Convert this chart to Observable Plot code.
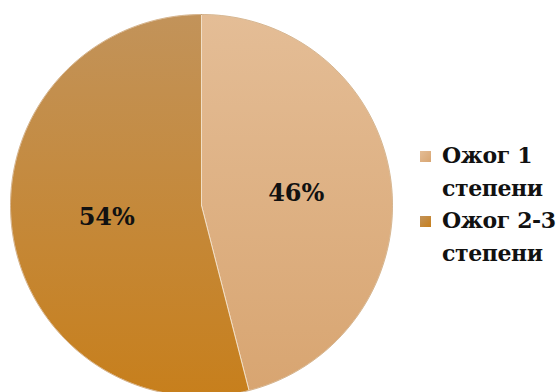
<!DOCTYPE html>
<html>
<head>
<meta charset="utf-8">
<script src="https://cdn.jsdelivr.net/npm/d3@7"></script>
<script src="https://cdn.jsdelivr.net/npm/@observablehq/plot@0.6"></script>
<style>
  html, body { margin: 0; padding: 0; background: #fff; }
  #wrap { position: relative; width: 557px; height: 392px; overflow: hidden; }
  #legend { position: absolute; left: 0; top: 0; }
  .item { position: absolute; left: 420px; }
  .sw { position: absolute; left: 0; width: 11px; height: 11px; }
  .lbl { position: absolute; left: 22px; white-space: pre; font-family: "DejaVu Serif", serif; font-weight: bold; font-size: 22px; letter-spacing: -0.4px; line-height: 32.5px; color: #111; }
</style>
</head>
<body>
<div id="wrap"></div>
<script>
const categories = ["Ожог 1 степени", "Ожог 2-3 степени"];
const values = [46, 54];
const labels = ["46%", "54%"];
const colorsTop = ["#e4bd96", "#c2935a"];
const colorsBottom = ["#d8a571", "#c77f1c"];

const total = d3.sum(values);
// build slice polygons (clockwise from 12 o'clock), unit radius
const slices = [];
let acc = 0;
values.forEach((v, i) => {
  const a0 = acc / total * 2 * Math.PI;
  acc += v;
  const a1 = acc / total * 2 * Math.PI;
  const pts = [{x: 0, y: 0, k: i}];
  const n = 200;
  for (let j = 0; j <= n; j++) {
    const a = a0 + (a1 - a0) * j / n;
    pts.push({x: Math.sin(a), y: Math.cos(a), k: i});
  }
  pts.push({x: 0, y: 0, k: i});
  const am = (a0 + a1) / 2;
  slices.push({pts, lx: 0.5 * Math.sin(am), ly: 0.5 * Math.cos(am), label: labels[i], cat: categories[i]});
});

const W = 557, H = 392, cx = 201, cy = 205, R = 191;
const chart = Plot.plot({
  width: W, height: H,
  margin: 0,
  x: {domain: [-cx / R, (W - cx) / R], range: [0, W], axis: null},
  y: {domain: [-(H - cy) / R, cy / R], range: [H, 0], axis: null},
  marks: [
    ...slices.map((s, i) => Plot.line(s.pts, {x: "x", y: "y", fill: `url(#grad${i})`, stroke: "#f3e2cc", strokeWidth: 1, strokeOpacity: 0.9})),
    Plot.line(d3.range(0, 361).map(d => ({x: Math.sin(d * Math.PI / 180), y: Math.cos(d * Math.PI / 180)})), {x: "x", y: "y", stroke: "#b98a55", strokeWidth: 1, strokeOpacity: 0.5}),
    Plot.text(slices, {x: "lx", y: "ly", text: "label", fontFamily: "DejaVu Serif", fontWeight: "bold", fontSize: 24, fill: "#111"})
  ]
});

const defs = d3.select(chart).insert("defs", ":first-child");
slices.forEach((s, i) => {
  const g = defs.append("linearGradient").attr("id", `grad${i}`).attr("x1", 0).attr("y1", 0).attr("x2", 0).attr("y2", 1);
  g.append("stop").attr("offset", "0%").attr("stop-color", colorsTop[i]);
  g.append("stop").attr("offset", "100%").attr("stop-color", colorsBottom[i]);
});

const wrap = document.getElementById("wrap");
wrap.appendChild(chart);

const legend = document.createElement("div");
legend.id = "legend";
categories.forEach((c, i) => {
  const item = document.createElement("div");
  item.className = "item";
  item.style.top = (139 + i * 65) + "px";
  const sw = document.createElement("div");
  sw.className = "sw";
  sw.style.top = "12px";
  sw.style.background = `linear-gradient(135deg, ${colorsTop[i]}, ${colorsBottom[i]})`;
  const lb = document.createElement("div");
  lb.className = "lbl";
  lb.textContent = c.replace(" степени", "\nстепени");
  item.appendChild(sw);
  item.appendChild(lb);
  legend.appendChild(item);
});
wrap.appendChild(legend);
</script>
</body>
</html>
